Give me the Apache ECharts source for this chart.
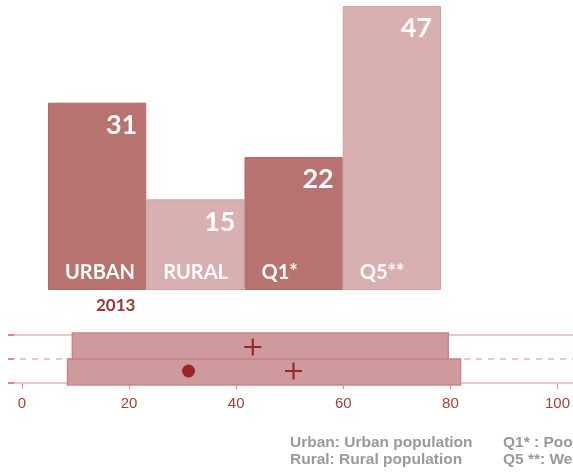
<!DOCTYPE html>
<html>
<head>
<meta charset="utf-8">
<script src="https://cdn.jsdelivr.net/npm/echarts@6/dist/echarts.min.js"></script>
<style>
  html, body { margin: 0; padding: 0; background: #fff; }
  #chart { width: 573px; height: 473px; }
</style>
</head>
<body>
<div id="chart"></div>
<script>
// bar panel data
var categories = ['URBAN', 'RURAL', 'Q1*', 'Q5**'];
var shares = [31, 15, 22, 47];
var barTone = ['dark', 'light', 'dark', 'light'];
var yearLabel = '2013';

// range panel data: [from, to, rowBottom, rowTop]
var ranges = [[8.5, 81.9, 0, 1], [9.4, 79.6, 1, 2]];
var plusMarks = [[43.1, 1.5], [50.7, 0.5]];
var dotMarks = [[31.1, 0.5]];
var rowLines = [[0, 'solid'], [1, 'dashed'], [2, 'solid']];

var notesLeft = ['Urban: Urban population', 'Rural: Rural population'];
var notesRight = ['Q1* : Poorest quintile', 'Q5 **: Wealthiest quintile'];

var tones = {
    dark: { fill: '#b87371', border: '#b06a69' },
    light: { fill: '#d8b0b1', border: '#cfa0a2' }
};
var markRed = '#9b2526';

var chart = echarts.init(document.getElementById('chart'));

var barData = shares.map(function (v, i) {
    return {
        value: v,
        itemStyle: { color: tones[barTone[i]].fill, borderColor: tones[barTone[i]].border, borderWidth: 1 }
    };
});

var option = {
    animation: false,
    grid: [
        { left: 48, right: 132, top: 6, bottom: 183 },
        { left: 22, right: 11, top: 335, bottom: 90 }
    ],
    xAxis: [
        { type: 'category', gridIndex: 0, data: categories, show: false },
        {
            type: 'value', gridIndex: 1, min: 0, max: 100, interval: 20,
            offset: 10,
            axisLine: { show: false },
            splitLine: { show: false },
            axisTick: { show: true, length: 6, lineStyle: { color: '#c99a9c', width: 1 } },
            axisLabel: { margin: 3, color: '#a04040', fontSize: 15, fontFamily: 'Liberation Sans' }
        }
    ],
    yAxis: [
        { type: 'value', gridIndex: 0, min: 0, max: 47, show: false },
        { type: 'value', gridIndex: 1, min: 0, max: 2, show: false }
    ],
    series: [
        {
            type: 'bar', xAxisIndex: 0, yAxisIndex: 0,
            barCategoryGap: '0%', barGap: '-100%',
            data: barData,
            silent: true,
            label: {
                show: true, position: 'insideTopRight', distance: 0, offset: [-9, 9],
                color: '#fff', fontSize: 27, fontWeight: 'bold', fontFamily: 'Lato'
            }
        },
        {
            type: 'bar', xAxisIndex: 0, yAxisIndex: 0,
            barCategoryGap: '0%', barGap: '-100%',
            data: shares,
            silent: true,
            itemStyle: { color: 'rgba(0,0,0,0)' },
            label: {
                show: true, position: 'insideBottomLeft', distance: 0, offset: [17, -7],
                formatter: function (p) { return p.name; },
                color: '#fff', fontSize: 20, fontWeight: 'bold', fontFamily: 'Lato'
            }
        },
        {
            type: 'custom', xAxisIndex: 1, yAxisIndex: 1, clip: false, silent: true,
            data: rowLines,
            renderItem: function (params, api) {
                var y = api.value(0);
                var a = api.coord([-2.6, y]);
                var b = api.coord([108, y]);
                var dashed = rowLines[params.dataIndex][1] === 'dashed';
                return {
                    type: 'group',
                    children: [
                        {
                            type: 'line',
                            shape: { x1: a[0], y1: a[1], x2: b[0], y2: b[1] },
                            style: { stroke: '#e8c9cb', lineWidth: 2, lineDash: dashed ? [6, 6] : null }
                        },
                        {
                            type: 'line',
                            shape: { x1: a[0], y1: a[1], x2: a[0] + 6, y2: a[1] },
                            style: { stroke: '#cf9092', lineWidth: 2 }
                        }
                    ]
                };
            }
        },
        {
            type: 'custom', xAxisIndex: 1, yAxisIndex: 1, clip: false, silent: true,
            data: ranges,
            renderItem: function (params, api) {
                var p1 = api.coord([api.value(0), api.value(3)]);
                var p2 = api.coord([api.value(1), api.value(2)]);
                var top = params.dataIndex === 1 ? p1[1] - 2 : p1[1];
                var bottom = params.dataIndex === 0 ? p2[1] + 2 : p2[1];
                return {
                    type: 'rect',
                    shape: { x: p1[0], y: top, width: p2[0] - p1[0], height: bottom - top },
                    style: { fill: '#cf9a9d', stroke: '#c3858a', lineWidth: 1.5 }
                };
            }
        },
        {
            type: 'scatter', xAxisIndex: 1, yAxisIndex: 1, silent: true,
            data: plusMarks,
            symbol: 'path://M7,0 L9,0 L9,7 L16,7 L16,9 L9,9 L9,16 L7,16 L7,9 L0,9 L0,7 L7,7 Z',
            symbolSize: 17,
            itemStyle: { color: markRed, opacity: 1 }
        },
        {
            type: 'scatter', xAxisIndex: 1, yAxisIndex: 1, silent: true,
            data: dotMarks,
            symbol: 'circle',
            symbolSize: 13,
            itemStyle: { color: markRed, opacity: 1 }
        }
    ],
    graphic: [
        {
            type: 'text', left: 96, top: 297,
            style: { text: yearLabel, fill: '#9e3535', font: 'bold 17px Lato' }
        },
        {
            type: 'text', left: 290, top: 434,
            style: { text: notesLeft.join('\n'), fill: '#9a9a9a', font: 'bold 15.5px "Liberation Sans"', lineHeight: 17 }
        },
        {
            type: 'text', left: 503, top: 434,
            style: { text: notesRight.join('\n'), fill: '#9a9a9a', font: 'bold 15.5px "Liberation Sans"', lineHeight: 17 }
        }
    ]
};

chart.setOption(option);
</script>
</body>
</html>
